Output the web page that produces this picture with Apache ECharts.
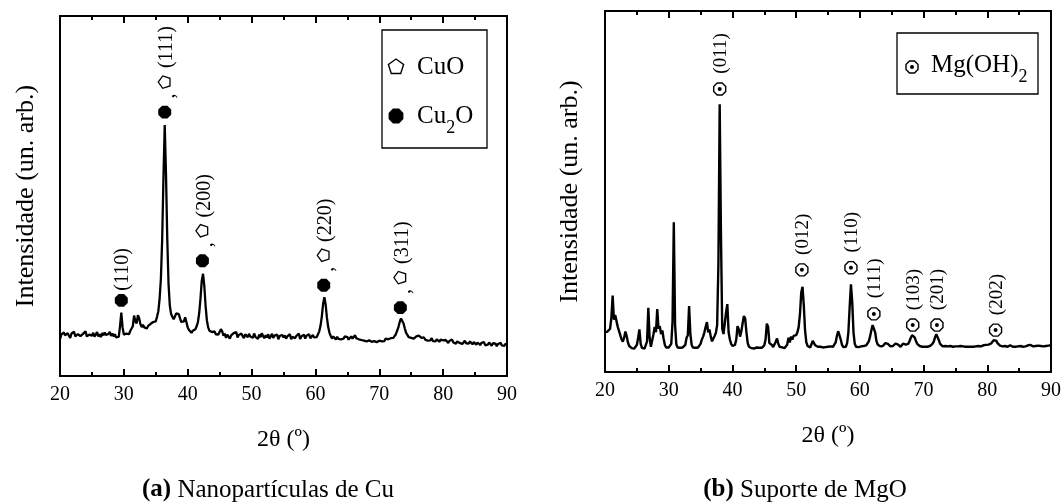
<!DOCTYPE html>
<html><head><meta charset="utf-8">
<script src="https://cdn.jsdelivr.net/npm/echarts@6/dist/echarts.min.js"></script>
<style>html,body{margin:0;padding:0;background:#fff}#c{width:1064px;height:502px}</style>
</head><body><div id="c"></div>
<script>
// ---------- DATA ----------
const X_START = 20, X_STEP = 0.2;   // 2θ sampling of both patterns (20.0 ... 90.0)
const xTicks = [20, 30, 40, 50, 60, 70, 80, 90];

// (a) Nanopartículas de Cu  — intensity (arb. units, 0..100 of the frame)
const cuIntensity = [
  10.2,11.5,11.0,12.1,11.3,10.8,11.9,11.2,10.6,11.8,11.4,12.3,11.0,10.7,11.6,12.0,11.1,10.9,11.7,11.3,12.4,11.0,10.8,11.5,11.9,
  11.2,12.0,10.9,11.5,12.2,11.0,11.6,10.8,11.9,11.3,12.1,11.4,10.9,11.7,12.3,11.1,11.8,11.0,11.6,10.7,11.2,10.9,13.8,17.6,13.5,
  11.5,11.0,11.8,12.2,11.6,12.5,12.0,13.8,16.8,15.2,14.6,16.9,16.0,14.4,13.6,14.2,13.5,14.0,13.2,13.9,13.4,14.5,14.0,15.0,14.6,
  15.2,16.5,18.0,21.5,27.0,38.0,55.0,69.7,56.0,38.0,25.5,19.5,17.2,16.4,15.8,16.5,17.4,17.8,17.2,16.0,15.0,14.6,15.2,16.3,15.8,
  13.5,12.8,12.4,12.0,12.6,12.3,13.0,13.8,15.0,17.5,21.5,26.5,28.4,25.0,19.5,15.5,13.5,12.6,13.1,12.2,11.8,12.4,11.6,12.1,11.5,
  12.0,13.0,12.4,11.2,11.8,10.6,11.5,11.0,10.4,11.3,10.8,11.9,11.5,12.2,10.7,11.4,10.9,11.8,11.1,10.5,11.6,11.2,10.8,11.7,11.0,
  11.4,10.6,11.8,10.9,11.2,10.3,11.5,10.8,11.9,11.1,10.5,11.3,10.7,11.6,10.4,11.0,11.7,10.6,11.2,10.9,11.5,10.2,11.1,10.8,11.4,
  10.7,11.3,10.4,11.0,10.8,11.6,10.2,10.9,11.4,10.5,11.1,10.6,11.8,10.3,11.0,10.7,11.5,10.4,11.2,10.8,11.6,10.5,11.0,11.4,10.7,
  11.2,10.8,11.6,12.4,14.0,16.5,20.0,21.9,19.8,16.2,13.6,12.0,11.1,10.4,11.0,10.6,10.1,10.9,10.3,10.8,10.2,10.7,10.4,11.0,10.5,
  10.8,10.1,10.6,11.0,10.4,10.9,11.3,10.5,11.0,10.2,10.7,10.0,10.5,9.8,10.3,9.6,10.1,9.9,10.4,9.5,10.0,9.7,10.2,9.4,9.9,
  9.8,10.3,9.6,10.1,9.7,10.4,9.9,10.2,9.8,10.5,10.0,10.6,10.9,11.6,12.6,13.6,15.0,16.0,15.6,14.6,13.2,12.0,11.4,10.8,11.2,
  10.6,10.9,10.4,10.8,11.0,10.5,11.2,10.8,10.6,10.3,10.7,10.1,10.4,9.8,10.2,9.9,10.5,9.7,10.0,9.6,10.2,9.8,9.5,10.1,9.7,
  9.9,9.4,10.0,9.6,9.2,9.8,9.5,10.1,9.3,9.7,9.0,9.6,9.9,9.2,9.5,8.9,9.4,9.8,9.1,9.5,9.0,9.6,9.3,8.8,9.4,
  9.1,8.7,9.3,9.0,8.6,9.2,8.9,9.4,8.5,9.0,8.7,9.3,8.8,8.4,9.1,8.6,9.0,8.3,8.9,8.6,9.2,8.5,8.8,8.4,9.0,8.7
];

// (b) Suporte de MgO
const mgIntensity = [
  11.0,10.8,11.2,10.9,12.0,15.0,21.2,14.5,15.8,16.0,12.5,13.0,10.2,9.0,8.4,9.5,11.2,10.0,8.2,7.2,6.8,6.6,6.7,6.5,6.8,
  7.5,9.5,11.8,7.8,6.7,6.6,6.5,6.8,8.5,17.8,9.5,7.0,6.8,10.4,12.5,11.0,17.4,12.0,12.7,10.5,11.5,9.2,7.5,6.8,6.6,
  6.8,7.0,7.8,14.0,41.5,13.0,7.6,6.8,6.6,6.7,6.5,6.8,7.0,7.5,9.5,10.2,18.3,10.5,7.5,6.8,6.6,6.7,6.6,6.8,7.2,
  7.8,9.0,9.8,11.0,12.5,13.8,11.0,11.8,9.8,8.5,8.8,10.0,10.8,13.0,30.0,74.2,38.0,12.0,10.5,10.2,16.5,18.8,11.0,9.0,7.8,
  7.2,6.9,7.5,9.0,12.7,11.8,9.8,11.3,13.5,15.5,14.8,11.0,8.0,7.0,6.7,6.6,6.7,6.5,6.6,6.8,6.6,6.7,6.5,6.7,6.9,
  7.4,9.0,13.4,12.5,8.0,7.8,7.5,6.9,7.2,8.4,9.3,7.8,7.0,7.4,6.8,6.7,6.6,6.8,7.6,9.5,8.2,9.8,9.0,10.0,10.5,
  10.2,11.0,12.5,16.0,22.0,23.6,18.5,11.5,8.2,7.2,6.9,6.8,7.2,8.6,9.0,7.4,6.9,7.0,6.8,7.0,6.9,6.8,7.0,6.9,7.0,
  7.0,6.9,7.1,6.9,7.0,7.4,8.2,10.0,11.3,11.0,9.0,7.5,6.9,6.8,7.0,8.0,11.0,18.0,24.3,19.5,11.0,7.8,7.0,6.8,6.9,
  7.0,7.1,7.0,7.2,7.1,7.4,7.8,8.5,9.8,11.5,13.0,13.3,11.0,8.6,7.6,7.2,7.1,7.0,7.2,7.5,8.0,8.4,7.8,7.3,7.1,
  7.0,7.2,7.4,7.9,8.1,7.6,7.2,7.0,7.3,7.9,7.5,7.6,8.0,7.8,8.6,9.5,10.2,10.3,9.6,8.6,7.8,7.4,7.2,7.1,7.0,
  7.1,7.0,7.2,7.0,7.3,7.2,7.5,7.8,8.4,9.6,10.5,10.2,8.8,7.8,7.3,7.1,7.0,7.2,7.0,7.1,7.0,7.2,7.1,7.0,7.2,
  7.1,7.3,7.1,7.0,7.2,7.0,7.1,7.3,7.0,7.1,7.0,7.2,7.0,7.1,7.0,7.2,7.1,7.0,7.2,7.3,7.1,7.2,7.4,7.2,7.5,
  7.4,7.6,7.5,7.9,8.4,8.8,9.0,8.7,8.0,7.6,7.3,7.2,7.1,7.0,7.2,7.1,7.0,7.1,7.4,7.2,7.0,7.1,7.0,7.2,7.1,
  7.0,7.2,7.1,7.0,7.3,7.1,7.2,7.4,7.2,7.5,7.3,7.1,7.4,7.2,7.0,7.3,7.5,7.2,7.4,7.1,7.3,7.2,7.5,7.3,7.2,7.4
];

// peak annotations
const cuPeaks   = [29.6, 36.4, 42.3, 61.3, 73.3];
const cuMarkY   = [21.0, 73.3, 32.0, 25.2, 19.0];
const cuHkl     = ['(110)', '(111)', '(200)', '(220)', '(311)'];
const cuAlsoCuO = [false, true, true, true, true];

const mgPeaks = [38.0, 50.9, 58.6, 62.2, 68.3, 72.1, 81.3];
const mgMarkY = [78.4, 28.3, 28.9, 16.1, 13.0, 13.0, 11.6];
const mgHkl   = ['(011)', '(012)', '(110)', '(111)', '(103)', '(201)', '(202)'];

const yTitle = 'Intensidade (un. arb.)';
const xTitle = '2θ (º)';
const capA = ['(a)', ' Nanopartículas de Cu'];
const capB = ['(b)', ' Suporte de MgO'];
const legA = ['CuO', 'Cu', '2', 'O'];
const legB = ['Mg(OH)', '2'];

// ---------- DRAWING ----------
const FONT = '"Liberation Serif", "Times New Roman", serif';
const toPairs = arr => arr.map((v, i) => [+(X_START + i * X_STEP).toFixed(1), v]);

function octagon(cx, cy, r) {
  const p = [];
  for (let k = 0; k < 8; k++) { const a = Math.PI / 8 + k * Math.PI / 4; p.push([cx + r * Math.cos(a), cy + r * Math.sin(a)]); }
  return p;
}
function pentagon(cx, cy, r, a0) {
  const p = [];
  for (let k = 0; k < 5; k++) { const a = a0 + k * 2 * Math.PI / 5; p.push([cx + r * Math.cos(a), cy + r * Math.sin(a)]); }
  return p;
}
const ctx = document.createElement('canvas').getContext('2d');
function textW(t, size) { ctx.font = size + 'px ' + FONT; return ctx.measureText(t).width; }

function xAx(gi, top) {
  return {
    type: 'value', gridIndex: gi, min: 20, max: 90, interval: 10, position: top ? 'top' : 'bottom',
    axisLine: { show: true, onZero: false, lineStyle: { color: '#000', width: 2 } },
    axisTick: { show: true, inside: true, length: 7, lineStyle: { color: '#000', width: 2 } },
    minorTick: { show: true, splitNumber: 2, length: 4, lineStyle: { color: '#000', width: 2 } },
    axisLabel: { show: !top, color: '#000', fontFamily: FONT, fontSize: 20, margin: 9,
      formatter: v => xTicks.includes(v) ? String(v) : '' },
    splitLine: { show: false }, minorSplitLine: { show: false },
    name: top ? '' : xTitle, nameLocation: 'middle', nameGap: 52,
    nameTextStyle: { color: '#000', fontFamily: FONT, fontSize: 24 }
  };
}
function yAx(gi, right) {
  return {
    type: 'value', gridIndex: gi, min: 0, max: 100, position: right ? 'right' : 'left',
    axisLine: { show: true, onZero: false, lineStyle: { color: '#000', width: 2 } },
    axisTick: { show: false }, axisLabel: { show: false }, splitLine: { show: false },
    name: right ? '' : yTitle, nameLocation: 'middle', nameGap: 21,
    nameTextStyle: { color: '#000', fontFamily: FONT, fontSize: 26 }
  };
}
function txt(x, y, t, size, rot, align) {
  return { type: 'text', x: x, y: y, rotation: rot || 0,
    style: { text: t, fill: '#000', font: size + 'px ' + FONT,
      fontSize: size, fontFamily: FONT, align: align || 'center', verticalAlign: 'middle' } };
}

const chart = echarts.init(document.getElementById('c'), null, { renderer: 'canvas' });

const cuMarks = {
  type: 'custom', xAxisIndex: 0, yAxisIndex: 0, silent: true, clip: false, z: 5,
  data: cuPeaks.map((x, i) => [x, cuMarkY[i], i]),
  renderItem: (params, api) => {
    const i = api.value(2);
    const p = api.coord([api.value(0), api.value(1)]);
    const ch = [{ type: 'polygon', shape: { points: octagon(p[0], p[1], 7) }, style: { fill: '#000' } }];
    if (cuAlsoCuO[i]) {
      ch.push(txt(p[0] + 4, p[1] - 16, ',', 20, Math.PI / 2));
      ch.push({ type: 'polygon', shape: { points: pentagon(p[0], p[1] - 30, 6.5, Math.PI) },
        style: { fill: '#fff', stroke: '#000', lineWidth: 1.3 } });
      ch.push(txt(p[0] + 2, p[1] - 65, cuHkl[i], 20, Math.PI / 2));
    } else {
      ch.push(txt(p[0] + 1, p[1] - 31, cuHkl[i], 20, Math.PI / 2));
    }
    return { type: 'group', children: ch };
  }
};
const mgMarks = {
  type: 'custom', xAxisIndex: 2, yAxisIndex: 2, silent: true, clip: false, z: 5,
  data: mgPeaks.map((x, i) => [x, mgMarkY[i], i]),
  renderItem: (params, api) => {
    const i = api.value(2);
    const p = api.coord([api.value(0), api.value(1)]);
    return { type: 'group', children: [
      { type: 'polygon', shape: { points: octagon(p[0], p[1], 6.5) }, style: { fill: '#fff', stroke: '#000', lineWidth: 1.4 } },
      { type: 'circle', shape: { cx: p[0], cy: p[1], r: 2 }, style: { fill: '#000' } },
      txt(p[0] + 1.5, p[1] - 35.5, mgHkl[i], 19, Math.PI / 2)
    ] };
  }
};

const LF = 25, SF = 18;
const wCu = textW(legA[1], LF), w2 = textW(legA[2], SF), wMg = textW(legB[0], LF);
function z11(el) { el.z = 11; return el; }
const graphics = [
  // legend (a)
  { type: 'rect', shape: { x: 382, y: 30, width: 105, height: 118 }, style: { fill: '#fff', stroke: '#000', lineWidth: 1.3 }, z: 10 },
  { type: 'polygon', shape: { points: pentagon(396, 67, 8, -Math.PI / 2) }, style: { fill: '#fff', stroke: '#000', lineWidth: 1.4 }, z: 11 },
  z11(txt(417, 67, legA[0], LF, 0, 'left')),
  { type: 'polygon', shape: { points: octagon(396, 116, 8) }, style: { fill: '#000' }, z: 11 },
  z11(txt(417, 116, legA[1], LF, 0, 'left')),
  z11(txt(417 + wCu, 128, legA[2], SF, 0, 'left')),
  z11(txt(417 + wCu + w2, 116, legA[3], LF, 0, 'left')),
  // legend (b)
  { type: 'rect', shape: { x: 897, y: 33, width: 141, height: 61 }, style: { fill: '#fff', stroke: '#000', lineWidth: 1.3 }, z: 10 },
  { type: 'polygon', shape: { points: octagon(912, 67, 6.5) }, style: { fill: '#fff', stroke: '#000', lineWidth: 1.4 }, z: 11 },
  { type: 'circle', shape: { cx: 912, cy: 67, r: 2 }, style: { fill: '#000' }, z: 11 },
  z11(txt(931, 65, legB[0], LF, 0, 'left')),
  z11(txt(931 + wMg, 77, legB[1], SF, 0, 'left')),
  // captions
  { type: 'text', x: 268, y: 490, style: { text: '{b|' + capA[0] + '}{n|' + capA[1] + '}', align: 'center', verticalAlign: 'middle',
      rich: { b: { fontFamily: FONT, fontSize: 25, fontWeight: 'bold', fill: '#000' }, n: { fontFamily: FONT, fontSize: 25, fill: '#000' } } } },
  { type: 'text', x: 805, y: 490, style: { text: '{b|' + capB[0] + '}{n|' + capB[1] + '}', align: 'center', verticalAlign: 'middle',
      rich: { b: { fontFamily: FONT, fontSize: 25, fontWeight: 'bold', fill: '#000' }, n: { fontFamily: FONT, fontSize: 25, fill: '#000' } } } }
];

const yA = yAx(0, false), yB = yAx(2, false);
yB.nameGap = 22;

chart.setOption({
  animation: false,
  backgroundColor: '#fff',
  grid: [
    { left: 60, top: 16, width: 447, height: 360 },
    { left: 605, top: 11, width: 448, height: 361 }
  ],
  xAxis: [xAx(0, false), xAx(0, true), xAx(1, false), xAx(1, true)].map((a, k) => Object.assign(a, { gridIndex: k < 2 ? 0 : 1 })),
  yAxis: [yA, yAx(0, true), yB, yAx(1, true)].map((a, k) => Object.assign(a, { gridIndex: k < 2 ? 0 : 1 })),
  series: [
    { type: 'line', xAxisIndex: 0, yAxisIndex: 0, data: toPairs(cuIntensity), showSymbol: false, silent: true,
      lineStyle: { color: '#000', width: 2.3 } },
    { type: 'line', xAxisIndex: 2, yAxisIndex: 2, data: toPairs(mgIntensity), showSymbol: false, silent: true,
      lineStyle: { color: '#000', width: 2.4 } },
    cuMarks, mgMarks
  ],
  graphic: graphics
});
</script>
</body></html>
